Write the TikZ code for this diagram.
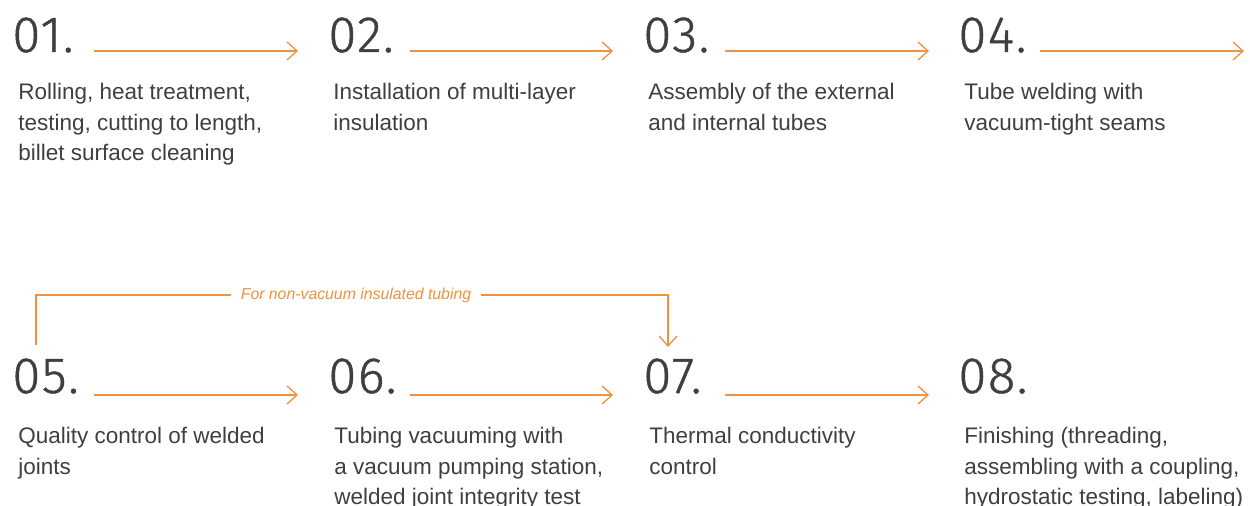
\documentclass[tikz,border=0pt]{standalone}
\usepackage{fontspec}
\setmainfont{Liberation Sans}
\newfontfamily\numfont{Fira Sans Light}[FakeBold=0.9,LetterSpace=3]
\usetikzlibrary{arrows.meta,calc}
\definecolor{procorange}{HTML}{F0923E}
\definecolor{proctext}{HTML}{3F3F3F}
\tikzstyle{stepnum}=[anchor=base west, inner sep=0pt, text=proctext,
    font=\numfont\fontsize{29}{29}\selectfont]
\tikzstyle{stepdesc}=[anchor=north west, inner sep=0pt, align=left, text=proctext,
    font=\fontsize{12.8}{17.4}\selectfont]
\tikzstyle{steparrow}=[draw=procorange, line width=0.75pt,
    -{Straight Barb[length=0.2cm,width=0.36cm]}]
\tikzstyle{bypasslabel}=[fill=white, inner xsep=0.2cm, inner ysep=1pt, text=procorange,
    font=\itshape\fontsize{9}{10}\selectfont]

\begin{document}
\begin{tikzpicture}[x=0.02cm, y=-0.02cm]
    \useasboundingbox (0,0) rectangle (1250,506);
    % first row
    \node[stepnum] (n1) at (12,52) {01.};
    \node[stepnum] (n2) at (328,52) {02.};
    \node[stepnum] (n3) at (643,52) {03.};
    \node[stepnum] (n4) at (958,52) {04.};
    \node[stepdesc] (d1) at (18,83) {Rolling, heat treatment,\\testing, cutting to length,\\billet surface cleaning};
    \node[stepdesc] (d2) at (333,83) {Installation of multi-layer\\insulation};
    \node[stepdesc] (d3) at (648,83) {Assembly of the external\\and internal tubes};
    \node[stepdesc] (d4) at (964,83) {Tube welding with\\vacuum-tight seams};
    \coordinate (e4) at (1244,51);
    \draw[steparrow] ($(n1.base west)+(82,-1)$) -- ($(n2.base west)+(-30,-1)$);
    \draw[steparrow] ($(n2.base west)+(82,-1)$) -- ($(n3.base west)+(-30,-1)$);
    \draw[steparrow] ($(n3.base west)+(82,-1)$) -- ($(n4.base west)+(-29,-1)$);
    \draw[steparrow] ($(n4.base west)+(82,-1)$) -- (e4);
    % second row
    \node[stepnum] (n5) at (12,393) {05.};
    \node[stepnum] (n6) at (328,393) {06.};
    \node[stepnum] (n7) at (643,393) {07.};
    \node[stepnum] (n8) at (958,393) {08.};
    \node[stepdesc] (d5) at (18,427) {Quality control of welded\\joints};
    \node[stepdesc] (d6) at (334,427) {Tubing vacuuming with\\a vacuum pumping station,\\welded joint integrity test};
    \node[stepdesc] (d7) at (649,427) {Thermal conductivity\\control};
    \node[stepdesc] (d8) at (964,427) {Finishing (threading,\\assembling with a coupling,\\hydrostatic testing, labeling)};
    \draw[steparrow] ($(n5.base west)+(82,2)$) -- ($(n6.base west)+(-30,2)$);
    \draw[steparrow] ($(n6.base west)+(82,2)$) -- ($(n7.base west)+(-30,2)$);
    \draw[steparrow] ($(n7.base west)+(82,2)$) -- ($(n8.base west)+(-29,2)$);
    % bypass for non-vacuum tubing
    \coordinate (bp) at (36,345);
    \draw[steparrow] (bp) |- ($(n7.base west)+(25,-98)$) -- ($(n7.base west)+(25,-46)$);
    \node[bypasslabel] (bl) at (356,295) {For non-vacuum insulated tubing};
\end{tikzpicture}
\end{document}
